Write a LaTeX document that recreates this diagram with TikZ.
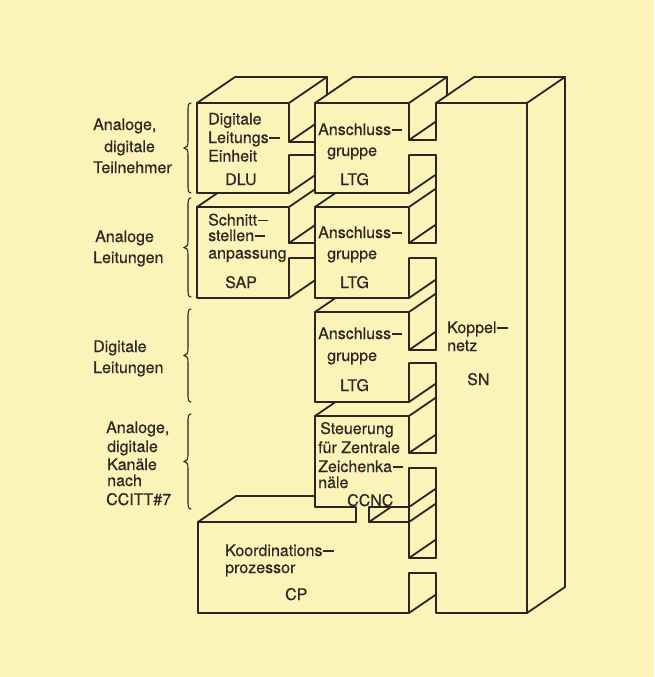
\documentclass[tikz,border=0pt]{standalone}
\usepackage{fontspec}
\setmainfont{TeX Gyre Heros}[FakeBold=0.5]
\definecolor{bgcol}{HTML}{FCF3B9}
\definecolor{inkcol}{HTML}{2A2622}
\definecolor{txtcol}{HTML}{2C2824}
\newcommand\dsh{\kern0.6pt\rule[0.26em]{0.66em}{0.09em}}
\newcommand\ltgbox[4]{% top, bottom, slot1, slot2
  \draw[edge] (409,#1) -- (315,#1) -- (315,#2) -- (409,#2);
  \draw[edge] (409,#1) -- (409,#3) -- (436,#3);
  \draw[edge] (409,#3) -- (436,#3-18.5);
  \draw[edge] (436,#4) -- (409,#4) -- (409,#2) -- (436,#2-18.5);
}
\newcommand\bracepath[3]{% x, top, bottom
  \draw[bracestyle] (#1+3,#2) .. controls (#1,#2) and (#1,#2+3) .. (#1,#2+9)
    -- (#1,{(#2+#3)/2-7}) .. controls (#1,{(#2+#3)/2-2}) and (#1-1,{(#2+#3)/2}) .. (#1-4,{(#2+#3)/2})
    .. controls (#1-1,{(#2+#3)/2}) and (#1,{(#2+#3)/2+2}) .. (#1,{(#2+#3)/2+7})
    -- (#1,#3-9) .. controls (#1,#3-3) and (#1,#3) .. (#1+3,#3);
}
\begin{document}
\begin{tikzpicture}[x=1pt,y=-1pt,
  edge/.style={draw=inkcol,line width=1.8pt,line join=round,line cap=round},
  bracestyle/.style={draw=inkcol,line width=1.1pt,line cap=round},
  lbl/.style={anchor=base west,inner sep=0pt,text=txtcol,font=\fontsize{16}{19}\selectfont}]
\fill[bgcol] (0,0) rectangle (654,677);
\useasboundingbox (0,0) rectangle (654,677);

% ---------- column 1: DLU ----------
\draw[edge] (289,103) -- (197,103) -- (197,193) -- (289,193);
\draw[edge] (289,103) -- (289,142) -- (315,142);
\draw[edge] (289,142) -- (315,124.2);
\draw[edge] (315,155) -- (289,155) -- (289,193) -- (315,175.2);
\draw[edge] (197,103) -- (235,77) -- (327,77) -- (289,103);
\draw[edge] (327,77) -- (327,94.8);
% ---------- column 1: SAP ----------
\draw[edge] (289,207) -- (197,207) -- (197,298) -- (289,298);
\draw[edge] (289,207) -- (289,243) -- (315,243);
\draw[edge] (289,243) -- (315,225.2);
\draw[edge] (315,258) -- (289,258) -- (289,298) -- (315,280.2);
\draw[edge] (197,207) -- (217.5,193);
\draw[edge] (289,207) -- (315,189.2);

% ---------- column 2: LTG boxes ----------
\ltgbox{103}{193}{140}{155}
\draw[edge] (315,103) -- (353,77) -- (447,77) -- (409,103);
\draw[edge] (447,77) -- (447,95.5);
\ltgbox{207}{298}{243}{258}
\draw[edge] (409,207) -- (436,188.5);
\draw[edge] (315,207) -- (335.5,193);
\ltgbox{312}{402}{350}{363}
\draw[edge] (409,312) -- (436,293.5);
\draw[edge] (315,312) -- (335.5,298);

% ---------- CCNC ----------
\draw[edge] (409,416) -- (315,416) -- (315,507) -- (356,507) -- (356,522);
\draw[edge] (369,522) -- (369,507) -- (409,507);
\draw[edge] (409,416) -- (409,453) -- (436,453);
\draw[edge] (409,453) -- (436,434.5);
\draw[edge] (436,468) -- (409,468) -- (409,558) -- (436,558);
\draw[edge] (409,507) -- (436,488.5);
\draw[edge] (409,416) -- (436,397.5);
\draw[edge] (315,416) -- (335.5,402);

% ---------- CP ----------
\draw[edge] (356,522) -- (198,522) -- (198,613) -- (409,613) -- (409,573) -- (436,573);
\draw[edge] (369,522) -- (409,522) -- (436,503.5);
\draw[edge] (369,522) -- (391,507);
\draw[edge] (198,522) -- (236,496) -- (315,496);
\draw[edge] (409,558) -- (436,539.5);
\draw[edge] (409,613) -- (436,594.5);

% ---------- SN ----------
\draw[edge] (436,140) -- (436,103) -- (474,77) -- (565,77) -- (565,587) -- (527,613) -- (436,613) -- (436,573);
\draw[edge] (436,103) -- (527,103) -- (565,77);
\draw[edge] (527,103) -- (527,613);
\draw[edge] (436,155) -- (436,243);
\draw[edge] (436,258) -- (436,350);
\draw[edge] (436,363) -- (436,453);
\draw[edge] (436,468) -- (436,558);

% ---------- braces ----------
\bracepath{188}{103}{193}
\bracepath{188}{198}{297}
\bracepath{188}{309}{402}
\bracepath{188}{414}{509}

% ---------- block texts ----------
\node[lbl] (dlu1) at (208,124.5) {Digitale};
\node[lbl] (dlu2) at (208,143) {Leitungs\dsh};
\node[lbl] (dlu3) at (208,161.5) {Einheit};
\node[lbl] (dlu4) at (225,185) {DLU};

\node[lbl] (sap1) at (208,225.5) {Schnitt\dsh};
\node[lbl] (sap2) at (208,241) {stellen\dsh};
\node[lbl] (sap3) at (208,258.5) {anpassung};
\node[lbl] (sap4) at (225,288) {SAP};

\node[lbl] (ltga1) at (318,135) {Anschluss\dsh};
\node[lbl] (ltga2) at (327,156) {gruppe};
\node[lbl] (ltga3) at (340,185) {LTG};
\node[lbl] (ltgb1) at (318,238) {Anschluss\dsh};
\node[lbl] (ltgb2) at (327,259) {gruppe};
\node[lbl] (ltgb3) at (340,288) {LTG};
\node[lbl] (ltgc1) at (318,339) {Anschluss\dsh};
\node[lbl] (ltgc2) at (327,361) {gruppe};
\node[lbl] (ltgc3) at (340,391) {LTG};

\node[lbl] (cc1) at (320,434) {Steuerung};
\node[lbl] (cc2) at (318,453) {für Zentrale};
\node[lbl] (cc3) at (318,472) {Zeichenka\dsh};
\node[lbl] (cc4) at (318,488) {näle};
\node[lbl] (cc5) at (347,506) {CCNC};

\node[lbl] (cp1) at (225,556) {Koordinations\dsh};
\node[lbl] (cp2) at (225,573) {prozessor};
\node[lbl] (cp3) at (285,600) {CP};

\node[lbl] (sn1) at (447,333) {Koppel\dsh};
\node[lbl] (sn2) at (447,351) {netz};
\node[lbl] (sn3) at (467,385) {SN};

% ---------- left labels ----------
\node[lbl] (g11) at (93,130) {Analoge,};
\node[lbl] (g12) at (104,152) {digitale};
\node[lbl] (g13) at (93,173) {Teilnehmer};
\node[lbl] (g21) at (95,242) {Analoge};
\node[lbl] (g22) at (93,263) {Leitungen};
\node[lbl] (g31) at (93,352) {Digitale};
\node[lbl] (g32) at (93,373) {Leitungen};
\node[lbl] (g41) at (106,433) {Analoge,};
\node[lbl] (g42) at (107,452) {digitale};
\node[lbl] (g43) at (107,470) {Kanäle};
\node[lbl] (g44) at (107,486) {nach};
\node[lbl] (g45) at (106,505) {CCITT\#7};
\end{tikzpicture}
\end{document}
